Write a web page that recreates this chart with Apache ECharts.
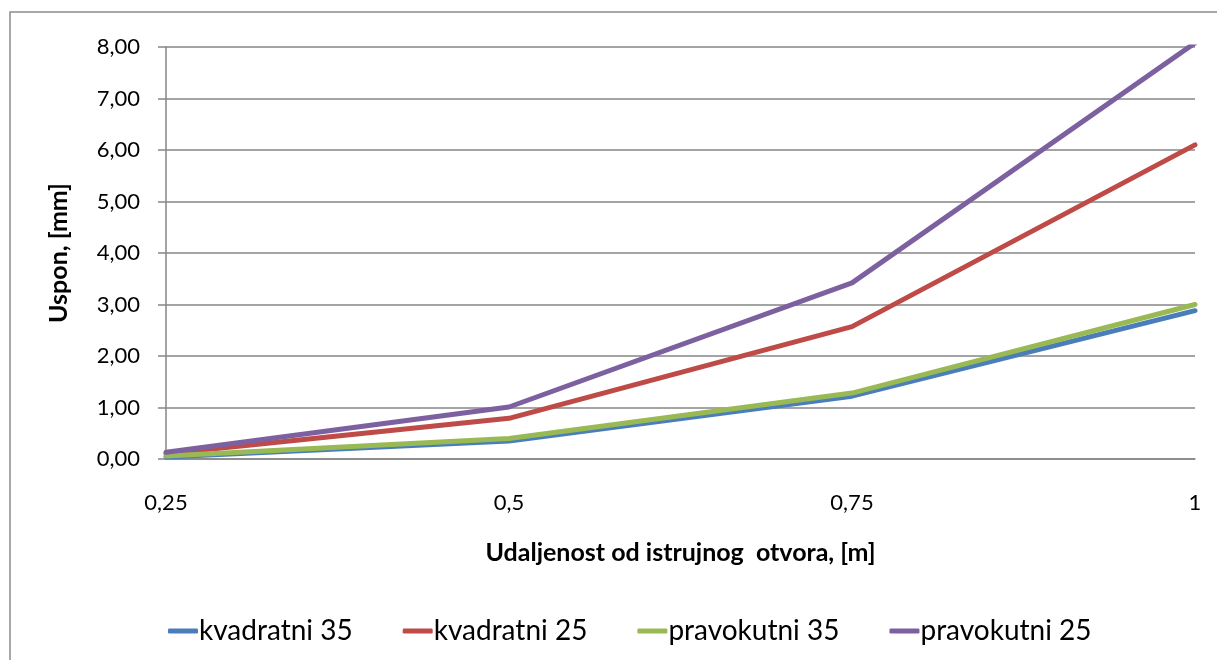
<!DOCTYPE html>
<html>
<head>
<meta charset="utf-8">
<script src="https://cdn.jsdelivr.net/npm/echarts@6/dist/echarts.min.js"></script>
<style>
html,body{margin:0;padding:0;background:#fff;}
#chart{width:1217px;height:660px;}
</style>
</head>
<body>
<div id="chart"></div>
<script>
const categories = ['0,25', '0,5', '0,75', '1'];
const kvadratni35 = [0.04, 0.35, 1.22, 2.88];
const kvadratni25 = [0.10, 0.79, 2.57, 6.10];
const pravokutni35 = [0.06, 0.40, 1.28, 3.00];
const pravokutni25 = [0.13, 1.01, 3.42, 8.08];
const yTicks = { min: 0, max: 8, interval: 1 };

const FONT = 'Lato, "Open Sans", sans-serif';
const chart = echarts.init(document.getElementById('chart'));
function mk(name, data, color) {
  return {
    name: name, type: 'line', data: data, symbol: 'none',
    lineStyle: { width: 5, color: color, cap: 'round', join: 'round' },
    itemStyle: { color: color }
  };
}
chart.setOption({
  animation: false,
  textStyle: { fontFamily: FONT },
  graphic: [{
    type: 'rect', silent: true,
    shape: { x: 10, y: 12, width: 1300, height: 700 },
    style: { fill: 'none', stroke: '#8c8c8c', lineWidth: 1.5 }
  }],
  grid: { left: 166, right: 22, top: 47, bottom: 201, containLabel: false },
  legend: {
    top: 612, left: 163,
    itemWidth: 30, itemHeight: 5, itemGap: 50,
    icon: 'roundRect',
    textStyle: { fontSize: 28, color: '#000', fontFamily: FONT, padding: [0, 0, 0, -4] },
    data: ['kvadratni 35', 'kvadratni 25', 'pravokutni 35', 'pravokutni 25']
  },
  xAxis: {
    type: 'category', data: categories, boundaryGap: false,
    name: 'Udaljenost od istrujnog  otvora, [m]', nameLocation: 'middle', nameGap: 81,
    nameTextStyle: { fontSize: 25, fontWeight: 'bold', color: '#000', fontFamily: FONT },
    axisLine: { lineStyle: { color: '#868686', width: 1.5 } },
    axisTick: { show: false },
    axisLabel: { fontSize: 22, color: '#000', margin: 33, fontFamily: FONT },
    splitLine: { show: false }
  },
  yAxis: {
    type: 'value', min: yTicks.min, max: yTicks.max, interval: yTicks.interval,
    name: 'Uspon, [mm]', nameLocation: 'middle', nameGap: 95,
    nameTextStyle: { fontSize: 25, fontWeight: 'bold', color: '#000', fontFamily: FONT },
    axisLine: { show: true, lineStyle: { color: '#868686', width: 1.5 } },
    axisTick: { show: true, length: 8, lineStyle: { color: '#868686', width: 1.5 } },
    axisLabel: { fontSize: 22, color: '#000', margin: 26, fontFamily: FONT,
      formatter: v => v.toFixed(2).replace('.', ',') },
    splitLine: { lineStyle: { color: '#868686', width: 1.5 } }
  },
  series: [
    mk('kvadratni 35', kvadratni35, '#4a7ebb'),
    mk('kvadratni 25', kvadratni25, '#be4b48'),
    mk('pravokutni 35', pravokutni35, '#98b954'),
    mk('pravokutni 25', pravokutni25, '#7d60a0')
  ]
});
</script>
</body>
</html>
